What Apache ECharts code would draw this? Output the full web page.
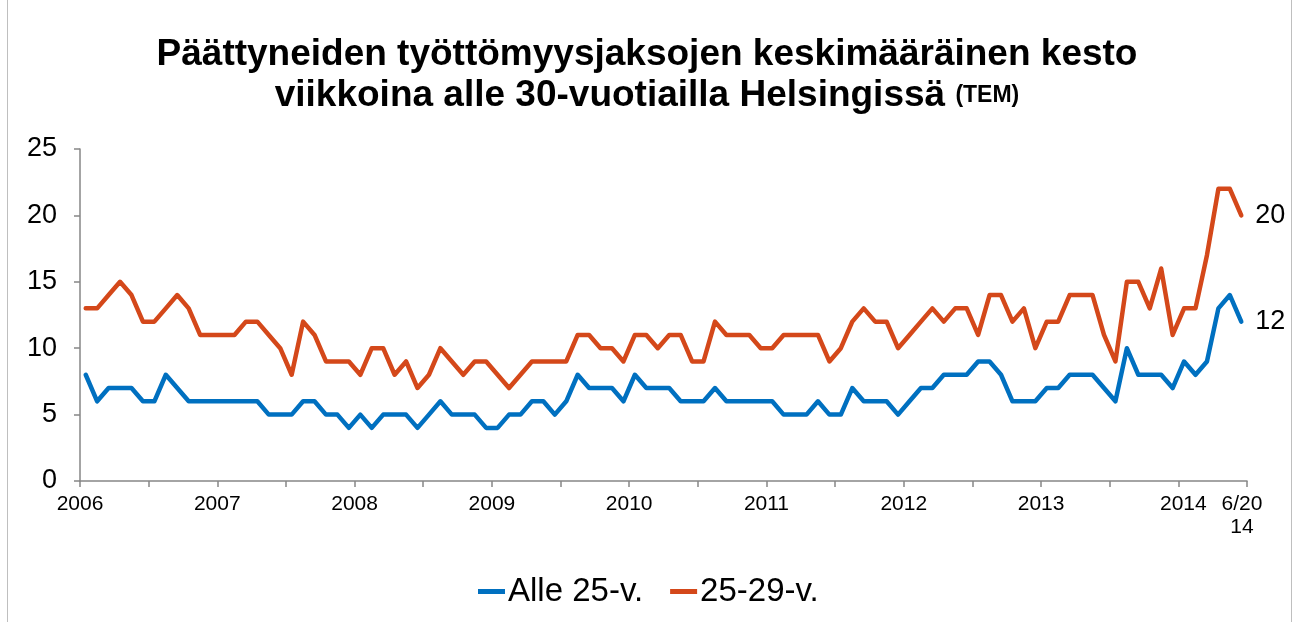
<!DOCTYPE html>
<html>
<head>
<meta charset="utf-8">
<script src="https://cdn.jsdelivr.net/npm/echarts@6/dist/echarts.min.js"></script>
<style>
html,body{margin:0;padding:0;background:#fff;}
#c{width:1294px;height:622px;}
</style>
</head>
<body>
<div id="c"></div>
<script>
// Monthly data 1/2006 – 6/2014
var startYear = 2006;
var yTicks = [0, 5, 10, 15, 20, 25];
var seriesNames = ['Alle 25-v.', '25-29-v.'];
var alle25 = [8,6,7,7,7,6,6,8,7,6,6,6,6,6,6,6,5,5,5,6,6,5,5,4,5,4,5,5,5,4,5,6,5,5,5,4,4,5,5,6,6,5,6,8,7,7,7,6,8,7,7,7,6,6,6,7,6,6,6,6,6,5,5,5,6,5,5,7,6,6,6,5,6,7,7,8,8,8,9,9,8,6,6,6,7,7,8,8,8,7,6,10,8,8,8,7,9,8,9,13,14,12];
var v25_29 = [13,13,14,15,14,12,12,13,14,13,11,11,11,11,12,12,11,10,8,12,11,9,9,9,8,10,10,8,9,7,8,10,9,8,9,9,8,7,8,9,9,9,9,11,11,10,10,9,11,11,10,11,11,9,9,12,11,11,11,10,10,11,11,11,11,9,10,12,13,12,12,10,11,12,13,12,13,13,11,14,14,12,13,10,12,12,14,14,14,11,9,15,15,13,16,11,13,13,17,22,22,20];
var lastLabel = '6/20\n14';

var n = alle25.length;
function toPts(arr){ return arr.map(function(v,i){ return [i + 0.5, v]; }); }

var chart = echarts.init(document.getElementById('c'));
var font = 'Liberation Sans, Arial, sans-serif';
chart.setOption({
  animation: false,
  backgroundColor: '#fff',
  title: {
    text: 'Päättyneiden työttömyysjaksojen keskimääräinen kesto\nviikkoina alle 30-vuotiailla Helsingissä {s|(TEM)}',
    left: 'center',
    top: 29,
    textStyle: {
      fontFamily: font, fontSize: 37, fontWeight: 'bold', color: '#000', lineHeight: 41,
      rich: { s: { fontFamily: font, fontSize: 23, fontWeight: 'bold', color: '#000', lineHeight: 41 } }
    }
  },
  graphic: [
    { type: 'line', shape: { x1: 7.5, y1: 0, x2: 7.5, y2: 622 }, style: { stroke: '#bfbfbf', lineWidth: 1 } },
    { type: 'line', shape: { x1: 1291.5, y1: 0, x2: 1291.5, y2: 622 }, style: { stroke: '#bfbfbf', lineWidth: 1 } }
  ],
  legend: {
    top: 570,
    left: 473,
    itemWidth: 27,
    itemHeight: 5,
    itemGap: 27,
    icon: 'rect',
    textStyle: { fontFamily: font, fontSize: 33, color: '#000', padding: [0, 0, 0, -2] },
    data: seriesNames
  },
  grid: { left: 80, right: 47, top: 149, bottom: 141 },
  xAxis: {
    type: 'value',
    min: 0, max: n, interval: 6,
    axisLine: { lineStyle: { color: '#868686', width: 1.5 } },
    axisTick: { show: true, length: 6, lineStyle: { color: '#868686', width: 1.5 } },
    splitLine: { show: false },
    axisLabel: {
      fontFamily: font, fontSize: 21, color: '#000', margin: 12, lineHeight: 23,
      showMaxLabel: true, showMinLabel: true,
      formatter: function(v){
        if (v === n) return '{e|' + lastLabel.split('\n').join('}\n{e|') + '}';
        if (v % 12 === 0) return (v === 96 ? '{l|' : '{y|') + (startYear + v / 12) + '}';
        return '';
      },
      rich: {
        y: { fontFamily: font, fontSize: 21, color: '#000', lineHeight: 23 },
        l: { fontFamily: font, fontSize: 21, color: '#000', lineHeight: 23, padding: [0, 0, 0, 10] },
        e: { fontFamily: font, fontSize: 21, color: '#000', lineHeight: 23, padding: [0, 10, 0, 0] }
      }
    }
  },
  yAxis: {
    type: 'value',
    min: yTicks[0], max: yTicks[yTicks.length - 1], interval: 5,
    axisLine: { show: true, lineStyle: { color: '#868686', width: 1.5 } },
    axisTick: { show: true, length: 6, lineStyle: { color: '#868686', width: 1.5 } },
    splitLine: { show: false },
    axisLabel: { fontFamily: font, fontSize: 27, color: '#000', margin: 23 }
  },
  series: [
    {
      name: seriesNames[0], type: 'line', data: toPts(alle25), showSymbol: false,
      lineStyle: { color: '#0070C0', width: 4.5, join: 'round', cap: 'round' }, itemStyle: { color: '#0070C0' },
      endLabel: { show: true, distance: 14, fontFamily: font, fontSize: 27, color: '#000', formatter: function(p){ return p.value[1]; } }
    },
    {
      name: seriesNames[1], type: 'line', data: toPts(v25_29), showSymbol: false,
      lineStyle: { color: '#D4481A', width: 4.5, join: 'round', cap: 'round' }, itemStyle: { color: '#D4481A' },
      endLabel: { show: true, distance: 14, fontFamily: font, fontSize: 27, color: '#000', formatter: function(p){ return p.value[1]; } }
    }
  ]
});
</script>
</body>
</html>
